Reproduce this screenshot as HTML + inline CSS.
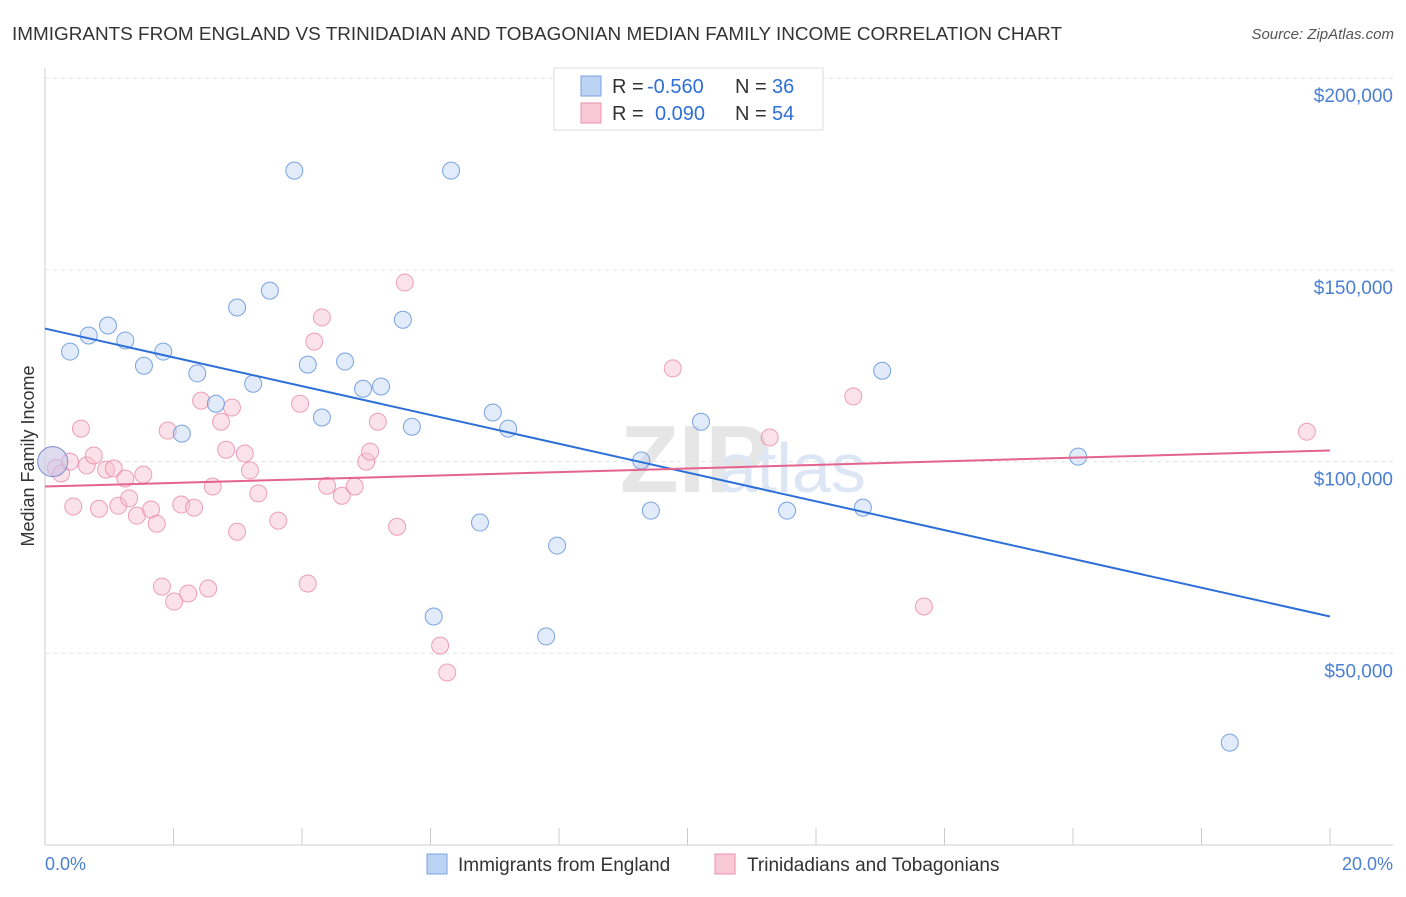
<!DOCTYPE html>
<html><head><meta charset="utf-8"><style>
body{margin:0;background:#fff;font-family:"Liberation Sans",sans-serif;}
svg text{font-family:"Liberation Sans",sans-serif;}
</style></head><body>
<svg id="chart" width="1406" height="892">
<text x="12" y="40" font-size="18" fill="#333" textLength="1050" lengthAdjust="spacingAndGlyphs">IMMIGRANTS FROM ENGLAND VS TRINIDADIAN AND TOBAGONIAN MEDIAN FAMILY INCOME CORRELATION CHART</text>
<text x="1394" y="39" font-size="15" fill="#555" text-anchor="end" font-style="italic">Source: ZipAtlas.com</text>
<text x="620" y="492" font-size="96" fill="#e6e6e6" font-family="Liberation Serif" font-weight="bold">ZIP</text>
<text x="718" y="492" font-size="70" fill="#dde6f4">atlas</text>
<g id="grid"></g><g id="marks"></g>
<text transform="translate(34,456) rotate(-90)" font-size="18" fill="#333" text-anchor="middle">Median Family Income</text>
<text x="45" y="870" font-size="18" fill="#4a7fd4">0.0%</text>
<text x="1393" y="870" font-size="18" fill="#4a7fd4" text-anchor="end">20.0%</text>
<g>
<rect x="554" y="68" width="269" height="62" fill="#fff" stroke="#ddd"/>
<rect x="581" y="76" width="20" height="20" fill="#bcd3f3" stroke="#7aa2e0"/>
<rect x="581" y="103" width="20" height="20" fill="#f9c8d7" stroke="#e892ae"/>
<text x="612" y="93" font-size="20" fill="#333">R =</text>
<text x="647" y="93" font-size="20" fill="#2f6fd8">-0.560</text>
<text x="735" y="93" font-size="20" fill="#333">N =</text>
<text x="772" y="93" font-size="20" fill="#2f6fd8">36</text>
<text x="612" y="120" font-size="20" fill="#333">R =</text>
<text x="655" y="120" font-size="20" fill="#2f6fd8">0.090</text>
<text x="735" y="120" font-size="20" fill="#333">N =</text>
<text x="772" y="120" font-size="20" fill="#2f6fd8">54</text>
</g>
<g>
<rect x="427" y="854" width="20" height="20" fill="#bcd3f3" stroke="#7aa2e0"/>
<text x="458" y="871" font-size="19" fill="#333">Immigrants from England</text>
<rect x="715" y="854" width="20" height="20" fill="#f9c8d7" stroke="#e892ae"/>
<text x="747" y="871" font-size="19" fill="#333">Trinidadians and Tobagonians</text>
</g>
</svg>
<script>
const yTicks=[50000,100000,150000,200000];
const yTickLabels=["$50,000","$100,000","$150,000","$200,000"];
const xTicks=[0,2,4,6,8,10,12,14,16,18,20];
const blueX=[0.12,0.39,0.68,0.98,1.25,1.54,1.84,2.13,2.37,2.66,2.99,3.24,3.50,3.88,4.09,4.31,4.67,4.95,5.23,5.57,5.71,6.05,6.32,6.77,6.97,7.21,7.80,7.97,9.28,9.43,10.21,11.55,12.73,13.03,16.08,18.44];
const blueY=[100000,128700,132900,135500,131600,125000,128700,107300,123000,115100,140200,120300,144600,175900,125300,111500,126100,119000,119600,137000,109100,59600,175900,84100,112800,108600,54400,78100,100300,87200,110400,87200,88000,123700,101300,26700];
const pinkX=[0.12,0.17,0.25,0.39,0.44,0.56,0.65,0.76,0.84,0.95,1.07,1.14,1.25,1.31,1.43,1.53,1.65,1.74,1.82,1.91,2.01,2.12,2.23,2.32,2.43,2.54,2.61,2.74,2.82,2.91,2.99,3.11,3.19,3.32,3.63,3.97,4.09,4.19,4.31,4.39,4.62,4.82,5.00,5.06,5.18,5.48,5.60,6.15,6.26,9.77,11.28,12.58,13.68,19.64];
const pinkY=[100000,98400,96900,100000,88300,108600,99000,101600,87700,97900,98200,88500,95600,90400,85900,96600,87500,83800,67400,108100,63500,88800,65600,88000,115900,66900,93500,110400,103100,114100,81700,102100,97700,91700,84600,115100,68200,131300,137600,93700,91100,93500,100000,102600,110400,83000,146700,52000,45000,124300,106300,117000,62200,107800];
const blueTrend=[134700,59600];
const pinkTrend=[93500,102900];
const X=p=>45+p*64.25, Y=v=>845-v*383.4/100000;
const NS="http://www.w3.org/2000/svg";
const grid=document.getElementById('grid'), marks=document.getElementById('marks');
function mk(tag,at,par){const e=document.createElementNS(NS,tag);for(const k in at)e.setAttribute(k,at[k]);par.appendChild(e);return e;}
let l=mk('line',{x1:45,y1:68,x2:45,y2:845,stroke:'#ccc'},grid);


l=mk('line',{x1:45,y1:845,x2:1393,y2:845,stroke:'#ccc'},grid);


yTicks.forEach((v,i)=>{
 const g=mk('line',{x1:45,y1:Y(v),x2:1393,y2:Y(v),stroke:'#e2e2e2','stroke-dasharray':'4,4'},grid);
 
 
 const t=mk('text',{x:1393,y:Y(v)+24,'font-size':19,fill:'#4a7fd4','text-anchor':'end'},grid);
 t.textContent=yTickLabels[i];
 
 
});
xTicks.forEach(p=>{
 const t=mk('line',{x1:X(p),y1:828,x2:X(p),y2:845,stroke:'#ccc'},grid);
 
 
});
function pts(xs,ys,fill,stroke,name){
 xs.forEach((x,i)=>{
  const c=mk('circle',{cx:X(x),cy:Y(ys[i]),r:(i==0?15:8.5),fill:fill,'fill-opacity':0.45,stroke:stroke,'stroke-opacity':0.8,'stroke-width':1},marks);
  
  
 });
}
pts(pinkX,pinkY,'#f7bfd0','#e88aa8','pink-point');
pts(blueX,blueY,'#bcd3f3','#5b8fdc','blue-point');
l=mk('line',{x1:X(0),y1:Y(blueTrend[0]),x2:X(20),y2:Y(blueTrend[1]),stroke:'#2d6fd9','stroke-width':2},marks);


l=mk('line',{x1:X(0),y1:Y(pinkTrend[0]),x2:X(20),y2:Y(pinkTrend[1]),stroke:'#e4638f','stroke-width':2},marks);


</script>
</body></html>
